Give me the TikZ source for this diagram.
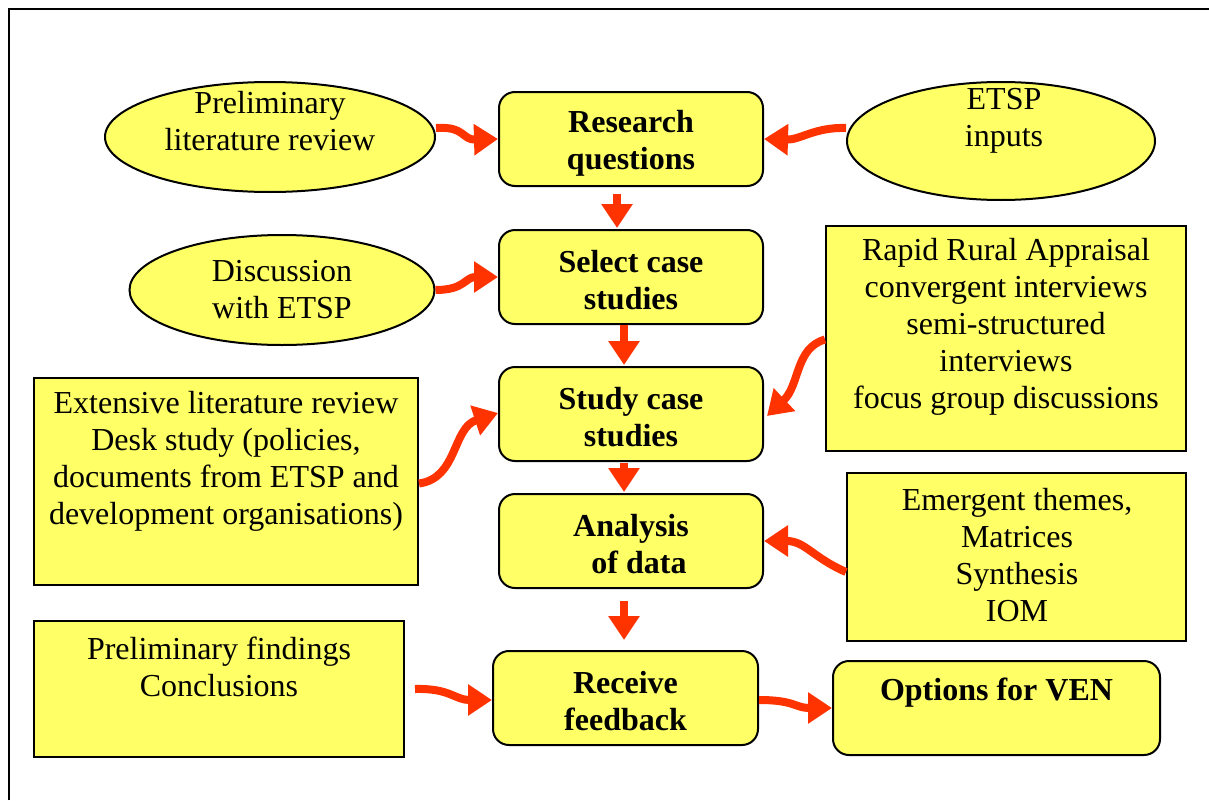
\documentclass[tikz,border=0pt]{standalone}
\usepackage{fontspec}
\setmainfont{Liberation Serif}
\usetikzlibrary{shapes.geometric,arrows.meta}
\definecolor{fillyel}{HTML}{FFFF66}
\definecolor{arrred}{HTML}{FF3300}
\tikzset{
  base/.style={draw=black, line width=2pt, fill=fillyel, inner sep=0pt},
  ell/.style={base, ellipse},
  rbox/.style={base, rectangle, rounded corners=16pt},
  sbox/.style={base, rectangle},
  txt/.style={align=center, inner sep=0pt, font=\fontsize{32}{37}\selectfont},
  btxt/.style={txt, font=\fontsize{32}{37}\selectfont\bfseries},
  flow/.style={draw=arrred, line width=8pt, -{Triangle[length=24pt,width=30pt]}}
}
\begin{document}
\begin{tikzpicture}[x=1pt,y=-1pt]
\useasboundingbox (0,0) rectangle (1209,800);
\draw[line width=2pt] (9,800) -- (9,9) -- (1209,9);

% ellipses
\node[ell, minimum width=330, minimum height=110] (lit) at (270,137) {};
\node[txt] (litT) at (270,121) {Preliminary\\literature review};
\node[ell, minimum width=308, minimum height=118] (etsp) at (1001,141) {};
\node[txt] (etspT) at (1004,121) {ETSP\\inputs};
\node[ell, minimum width=305, minimum height=110] (disc) at (282,290) {};
\node[txt] (discT) at (282,290) {Discussion\\with ETSP};

% rounded boxes
\node[rbox, minimum width=264, minimum height=94] (rq) at (631,139) {};
\node[btxt] at (631,143) {Research\\questions};
\node[rbox, minimum width=264, minimum height=94] (sel) at (631,277) {};
\node[btxt] at (631,280) {Select case\\studies};
\node[rbox, minimum width=264, minimum height=94] (study) at (631,414) {};
\node[btxt] at (631,417) {Study case\\studies};
\node[rbox, minimum width=264, minimum height=94] (anal) at (631,541) {};
\node[btxt] at (631,544) {Analysis\\\ \ of data};
\node[rbox, minimum width=265, minimum height=94] (recv) at (625.5,698) {};
\node[btxt] at (625.5,701) {Receive\\feedback};
\node[rbox, minimum width=327, minimum height=94] (opt) at (996.5,708) {};
\node[btxt] at (996.5,693) {Options for VEN};

% square boxes
\node[sbox, minimum width=360, minimum height=225] (rra) at (1006,338.5) {};
\node[txt] at (1006,327) {Rapid Rural Appraisal\\convergent interviews\\semi-structured\\interviews\\focus group discussions};
\node[sbox, minimum width=384, minimum height=207] (ext) at (226,481.5) {};
\node[txt] at (226,461) {Extensive literature review\\Desk study (policies,\\documents from ETSP and\\development organisations)};
\node[sbox, minimum width=339, minimum height=168] (emer) at (1016.5,557) {};
\node[txt] at (1017,555) {Emergent themes,\\Matrices\\Synthesis\\IOM};
\node[sbox, minimum width=370, minimum height=136] (pf) at (219,689) {};
\node[txt] at (219,667) {Preliminary findings\\Conclusions};

% connectors
\draw[flow] ([yshift=9pt]lit.east) .. controls (465,126) and (462,140) .. (rq.west);
\draw[flow] ([yshift=13pt]etsp.west) .. controls (815,127) and (800,140) .. (rq.east);
\draw[flow] ([xshift=-14pt,yshift=-7pt]rq.south) -- ([xshift=-14pt,yshift=1pt]sel.north);
\draw[flow] (disc.east) .. controls (465,290) and (465,277) .. (sel.west);
\draw[flow] ([xshift=-7pt]sel.south) -- ([xshift=-7pt,yshift=1pt]study.north);
\draw[flow] ([yshift=-1pt]rra.west) .. controls (795,348) and (800,385) .. ([xshift=3pt,yshift=-2pt]study.east);
\draw[flow] ([yshift=-2pt]ext.east) .. controls (458,478) and (452,428) .. ([yshift=1pt]study.west);
\draw[flow] ([xshift=-7pt,yshift=-1pt]study.south) -- ([xshift=-7pt,yshift=1pt]anal.north);
\draw[flow] ([yshift=-15pt]emer.west) .. controls (812,557) and (805,541) .. (anal.east);
\draw[flow] ([xshift=-7pt,yshift=-12pt]anal.south) -- ([xshift=-1.5pt,yshift=10pt]recv.north);
\draw[flow] ([xshift=10pt]pf.east) .. controls (450,688) and (455,700) .. ([yshift=-2pt]recv.west);
\draw[flow] ([yshift=-2pt]recv.east) .. controls (795,700) and (795,708) .. (opt.west);
\end{tikzpicture}
\end{document}
